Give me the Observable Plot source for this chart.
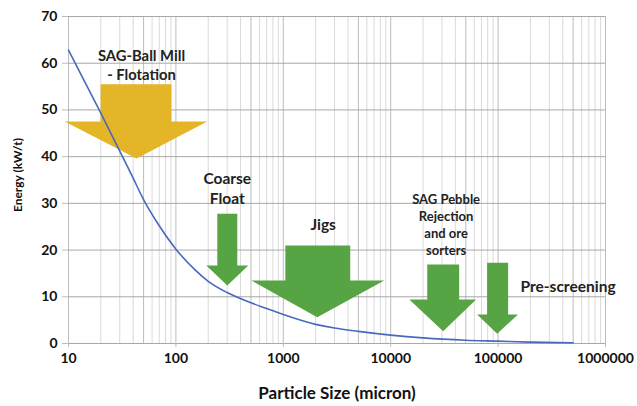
<!DOCTYPE html>
<html><head><meta charset="utf-8">
<script src="https://cdn.jsdelivr.net/npm/d3@7"></script>
<script src="https://cdn.jsdelivr.net/npm/@observablehq/plot@0.6"></script>
<style>body{margin:0;background:#fff}</style>
</head><body><div id="chart"></div>
<script>
// Curve: energy vs particle size
const sizes  = [10, 20, 30, 40, 50, 70, 100, 150, 200, 300, 500, 700, 1000, 2000, 3000, 5000, 10000, 20000, 50000, 100000, 200000, 500000];
const energy = [62.8, 49.3, 41.2, 35.4, 30.8, 25.2, 20.2, 15.8, 13.3, 10.9, 8.7, 7.5, 6.2, 4.1, 3.3, 2.6, 1.8, 1.2, 0.7, 0.5, 0.3, 0.15];

// Arrows (data coordinates)
const arrowNames = ["SAG-Ball Mill", "Coarse Float", "Jigs", "SAG Pebble", "Pre-screening"];
const shaftLeft  = [19.9, 243, 1045, 21900, 79000];
const shaftRight = [90.8, 373, 4200, 43400, 124000];
const headLeft   = [9.2, 192, 504, 14900, 63800];
const headRight  = [196, 472, 8700, 62400, 153000];
const tipX       = [43, 301, 2070, 30800, 98000];
const shaftTop   = [55.5, 27.8, 21.0, 16.9, 17.3];
const headTop    = [47.5, 16.7, 13.5, 9.4, 6.2];
const tipY       = [39.6, 12.4, 5.6, 2.6, 2.1];

// Labels
const labelText = ["SAG-Ball Mill\n- Flotation", "Coarse\nFloat", "Jigs", "SAG Pebble\nRejection\nand ore\nsorters", "Pre-screening"];
const labelX = [47.8, 301, 2350, 32800, 448000];
const labelY = [59.8, 33.3, 25.3, 25.6, 12.0];

// Ticks
const xTicks = [10, 100, 1000, 10000, 100000, 1000000];
const yTicks = [0, 10, 20, 30, 40, 50, 60, 70];

const curve = sizes.map((s, i) => ({size: s, energy: energy[i]}));
const verts = [];
arrowNames.forEach((n, i) => {
  const pts = [
    [shaftLeft[i], shaftTop[i]], [shaftRight[i], shaftTop[i]], [shaftRight[i], headTop[i]],
    [headRight[i], headTop[i]], [tipX[i], tipY[i]], [headLeft[i], headTop[i]],
    [shaftLeft[i], headTop[i]], [shaftLeft[i], shaftTop[i]]
  ];
  pts.forEach(p => verts.push({name: n, i, x: p[0], y: p[1]}));
});
const labels = labelText.map((t, i) => ({t, x: labelX[i], y: labelY[i], i}));

const decadeMinor = [], fiveMinor = [];
for (let e = 1; e <= 5; e++) {
  for (let m = 2; m <= 9; m++) {
    (m === 5 ? fiveMinor : decadeMinor).push(m * 10 ** e);
  }
}

const chart = Plot.plot({
  width: 637, height: 406,
  marginLeft: 68, marginRight: 32, marginTop: 16, marginBottom: 63,
  x: {type: "log", domain: [10, 1000000]},
  y: {domain: [0, 70]},
  style: {fontFamily: "Lato, 'Open Sans', sans-serif", fontSize: "14px", fontWeight: "bold", color: "#111", background: "#fff"},
  marks: [
    Plot.ruleX(decadeMinor, {stroke: "#dadada", strokeWidth: 1}),
    Plot.ruleX(fiveMinor, {stroke: "#bdbdbd", strokeWidth: 1}),
    Plot.ruleX(xTicks, {stroke: "#bdbdbd", strokeWidth: 1}),
    Plot.ruleY(yTicks, {stroke: "#a8a8a8", strokeWidth: 1}),
    Plot.line(verts.filter(d => d.i === 0), {x: "x", y: "y", z: "name", fill: "#e4b526", stroke: "none", curve: "linear"}),
    Plot.line(verts.filter(d => d.i > 0), {x: "x", y: "y", z: "name", fill: "#56a443", stroke: "none", curve: "linear"}),
    Plot.line(curve, {x: "size", y: "energy", stroke: "#4a68bf", strokeWidth: 1.6, curve: "monotone-x"}),
    Plot.axisX({ticks: xTicks, tickFormat: d => String(d), tickSize: 4, tickPadding: 6, stroke: "#bdbdbd", fill: "#111", label: null, fontSize: 14}),
    Plot.axisY({ticks: yTicks, tickSize: 6, tickPadding: 5, stroke: "#bdbdbd", fill: "#111", label: null, fontSize: 14}),
    Plot.text(labels.filter(d => d.i === 0), {x: "x", y: "y", text: "t", fontSize: 14.8, lineHeight: 1.3, fill: "#222"}),
    Plot.text(labels.filter(d => d.i === 1), {x: "x", y: "y", text: "t", fontSize: 15.5, lineHeight: 1.25, fill: "#222"}),
    Plot.text(labels.filter(d => d.i === 2), {x: "x", y: "y", text: "t", fontSize: 15.5, fill: "#222"}),
    Plot.text(labels.filter(d => d.i === 3), {x: "x", y: "y", text: "t", fontSize: 13, lineHeight: 1.3, fill: "#222"}),
    Plot.text(labels.filter(d => d.i === 4), {x: "x", y: "y", text: "t", fontSize: 15.5, fill: "#222"}),
    Plot.text(["Particle Size (micron)"], {frameAnchor: "bottom", textAnchor: "middle", lineAnchor: "middle", dy: 50, fontSize: 17, fill: "#111"}),
    Plot.text(["Energy (kW/t)"], {frameAnchor: "left", textAnchor: "middle", lineAnchor: "middle", rotate: -90, dx: -50, dy: -5, fontSize: 12, fill: "#111"})
  ]
});
document.getElementById("chart").appendChild(chart);
</script>
</body></html>
